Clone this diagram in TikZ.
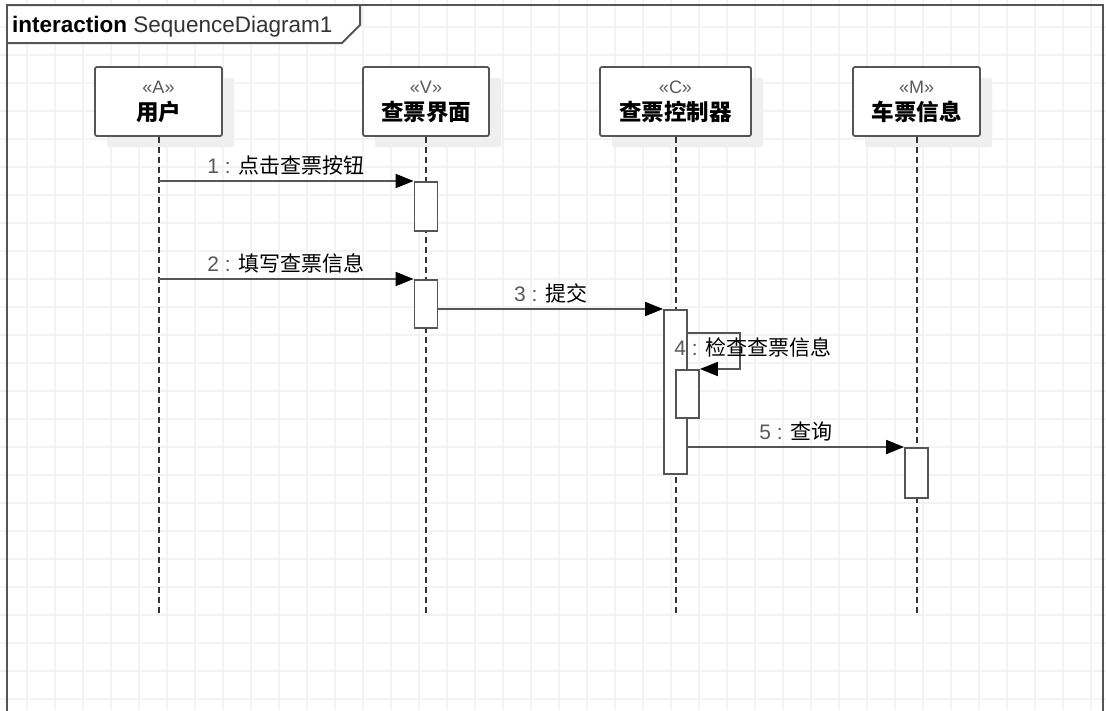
\documentclass[tikz,border=0pt]{standalone}
\usepackage{fontspec}
\setmainfont{Liberation Sans}
\newfontfamily\cjk{Noto Sans CJK SC}
\usetikzlibrary{arrows.meta,shadows}
\definecolor{gridc}{HTML}{F3F3F3}
\definecolor{linec}{HTML}{555555}
\definecolor{stereoc}{HTML}{595959}
\definecolor{shadowc}{HTML}{EFEFEF}
\newcommand\headtext[2]{{\color{stereoc}\fontsize{18}{20}\selectfont «#1»}\\{\cjk\bfseries #2}}
\tikzset{
	gridline/.style={gridc, line width=1.2pt},
	frame/.style={draw=linec, line width=2pt},
	head/.style={draw=linec, line width=1.8pt, rounded corners=2pt, fill=white,
		minimum height=69pt, inner sep=0pt, align=center, font=\fontsize{22.5}{27}\selectfont,
		drop shadow={shadow xshift=12pt, shadow yshift=-11pt, fill=shadowc, opacity=1}},
	act/.style={draw=linec, line width=1.8pt, fill=white, minimum width=23pt, inner sep=0pt, anchor=north},
	lifeline/.style={line width=2pt, dash pattern=on 6pt off 4pt, black!80},
	msg/.style={draw=linec, line width=1.8pt, -{Triangle[length=18pt,width=14pt,color=black]}},
	msglabel/.style={font=\fontsize{21}{24}\selectfont, inner sep=1pt},
}
\begin{document}
\begin{tikzpicture}[x=1pt,y=-1pt]
	\useasboundingbox (0,0) rectangle (1106,710);
	\fill[white] (0,0) rectangle (1106,710);
	\foreach \gx in {27,55,...,1103} \draw[gridline] (\gx,0) -- (\gx,710);
	\foreach \gy in {27,55,...,699} \draw[gridline] (0,\gy) -- (1106,\gy);

	\filldraw[frame, fill=white] (7,5) -- (360,5) -- (360,25) -- (342,43) -- (7,43);
	\draw[frame] (7,720) -- (7,5) -- (1103,5) -- (1103,720);
	\node[font=\fontsize{22.5}{24}\selectfont, anchor=base west, inner sep=0pt] (title) at (12,32) {\textbf{interaction} {\color{black!80}SequenceDiagram1}};

	\node[head, minimum width=127pt] (usr) at (158.5,101.5) {\headtext{A}{用户}};
	\node[head, minimum width=126pt] (view) at (426,101.5) {\headtext{V}{查票界面}};
	\node[head, minimum width=151pt] (ctrl) at (675.5,101.5) {\headtext{C}{查票控制器}};
	\node[head, minimum width=127pt] (info) at (916.5,101.5) {\headtext{M}{车票信息}};

	\foreach \h in {usr,view,ctrl,info}
		\draw[lifeline] (\h.south) -- (\h.south |- 0,615);

	\node[act, minimum height=49pt] (a1) at (view |- 0,181) {};
	\node[act, minimum height=48pt] (a2) at (view |- 0,279) {};
	\node[act, minimum height=164pt] (a3) at (ctrl |- 0,309) {};
	\node[act, minimum height=48pt, xshift=12pt] (a4) at (ctrl |- 0,369) {};
	\node[act, minimum height=50pt] (a5) at (info |- 0,447) {};

	\draw[msg] (usr |- a1.north) -- (a1.north west)
		node[msglabel, midway, above=4pt] (l1) {{\color{stereoc}1 :} {\cjk 点击查票按钮}};
	\draw[msg] (usr |- a2.north) -- (a2.north west)
		node[msglabel, midway, above=4pt] (l2) {{\color{stereoc}2 :} {\cjk 填写查票信息}};
	\draw[msg] (a2.east |- a3.north) -- (a3.north west)
		node[msglabel, midway, above=4pt] (l3) {{\color{stereoc}3 :} {\cjk 提交}};
	\draw[msg] ([yshift=-24pt]a3.north east) -| ([xshift=40pt]a4.north east) -- (a4.north east);
	\node[msglabel, anchor=base] (l4) at (753,355) {{\color{stereoc}4 :} {\cjk 检查查票信息}};
	\draw[msg] (a3.east |- a5.north) -- (a5.north west)
		node[msglabel, midway, above=4pt] (l5) {{\color{stereoc}5 :} {\cjk 查询}};
\end{tikzpicture}
\end{document}
